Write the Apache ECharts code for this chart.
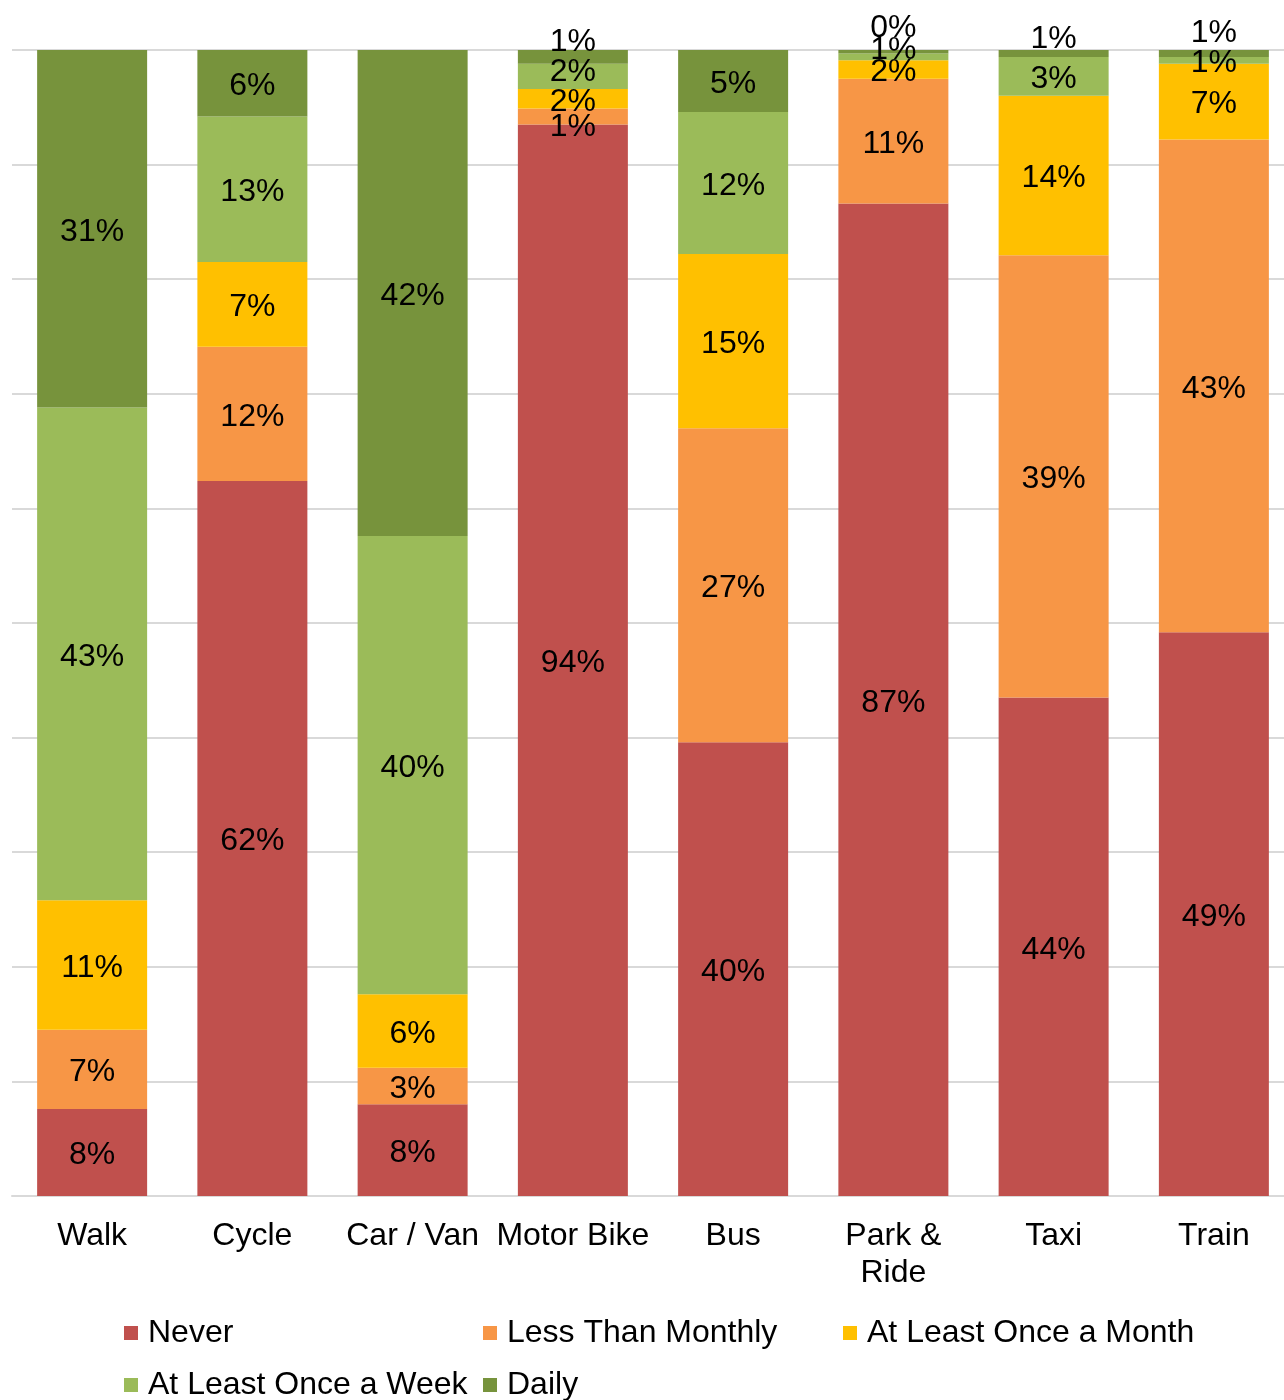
<!DOCTYPE html>
<html>
<head>
<meta charset="utf-8">
<script src="https://cdn.jsdelivr.net/npm/echarts@6/dist/echarts.min.js"></script>
<style>html,body{margin:0;padding:0;background:#fff}#c{width:1284px;height:1400px}</style>
</head>
<body>
<div id="c"></div>
<script>
var categories = ['Walk', 'Cycle', 'Car / Van', 'Motor Bike', 'Bus', 'Park &\nRide', 'Taxi', 'Train'];
var seriesNames = ['Never', 'Less Than Monthly', 'At Least Once a Month', 'At Least Once a Week', 'Daily'];
var never        = [7.6, 62.4, 8.0, 93.5, 39.6, 86.6, 43.5, 49.2];
var lessMonthly  = [6.9, 11.7, 3.2, 1.4, 27.4, 10.9, 38.6, 43.0];
var onceMonth    = [11.3, 7.4, 6.4, 1.7, 15.2, 1.6, 13.9, 6.6];
var onceWeek     = [43.0, 12.7, 40.0, 2.2, 12.4, 0.6, 3.4, 0.6];
var daily        = [31.2, 5.8, 42.4, 1.2, 5.4, 0.3, 0.6, 0.6];
var yTicks = [0, 10, 20, 30, 40, 50, 60, 70, 80, 90, 100];

var values = [never, lessMonthly, onceMonth, onceWeek, daily];
var colors = ['#C0504D', '#F79646', '#FFC000', '#9BBB59', '#77933C'];
var FONT = '"Liberation Sans", Arial, sans-serif';

// manual label nudges (series index -> category index -> dy px)
var nudges = {
  1: {3: 8},
  3: {3: -7, 5: -10},
  4: {3: -18, 5: -27, 6: -17, 7: -23}
};
var BASE_DY = 3;

var series = values.map(function (arr, si) {
  return {
    name: seriesNames[si],
    type: 'bar',
    stack: 'total',
    barWidth: 110,
    itemStyle: {color: colors[si]},
    label: {
      show: true,
      position: 'inside',
      offset: [0, BASE_DY],
      color: '#000',
      fontFamily: FONT,
      fontSize: 32,
      formatter: function (p) { return Math.round(p.value) + '%'; }
    },
    data: arr.map(function (v, ci) {
      var d = {value: v};
      if (nudges[si] && nudges[si][ci] !== undefined) {
        d.label = {offset: [0, BASE_DY + nudges[si][ci]]};
      }
      return d;
    })
  };
});

var legendPos = [[124, 1317], [483, 1317], [843, 1317], [124, 1369], [483, 1369]];
var legends = seriesNames.map(function (n, i) {
  return {
    data: [{name: n, icon: 'rect'}],
    left: legendPos[i][0],
    top: legendPos[i][1],
    itemWidth: 14,
    itemHeight: 14,
    itemGap: 0,
    padding: 0,
    selectedMode: false,
    textStyle: {fontFamily: FONT, fontSize: 32, color: '#000', padding: [0, 0, 0, 5]}
  };
});

var chart = echarts.init(document.getElementById('c'), null, {renderer: 'canvas'});
chart.setOption({
  animation: false,
  backgroundColor: '#fff',
  grid: {left: 12, width: 1282, top: 50, bottom: 204, containLabel: false, outerBoundsMode: 'none'},
  legend: legends,
  xAxis: {
    type: 'category',
    data: categories,
    axisLine: {lineStyle: {color: '#d9d9d9', width: 2}},
    axisTick: {show: false},
    axisLabel: {color: '#000', fontFamily: FONT, fontSize: 32, margin: 22, lineHeight: 37, interval: 0}
  },
  yAxis: {
    type: 'value',
    min: yTicks[0],
    max: yTicks[yTicks.length - 1],
    interval: yTicks[1] - yTicks[0],
    axisLabel: {show: false},
    axisLine: {show: false},
    axisTick: {show: false},
    splitLine: {lineStyle: {color: '#d9d9d9', width: 2}}
  },
  series: series
});
</script>
</body>
</html>
